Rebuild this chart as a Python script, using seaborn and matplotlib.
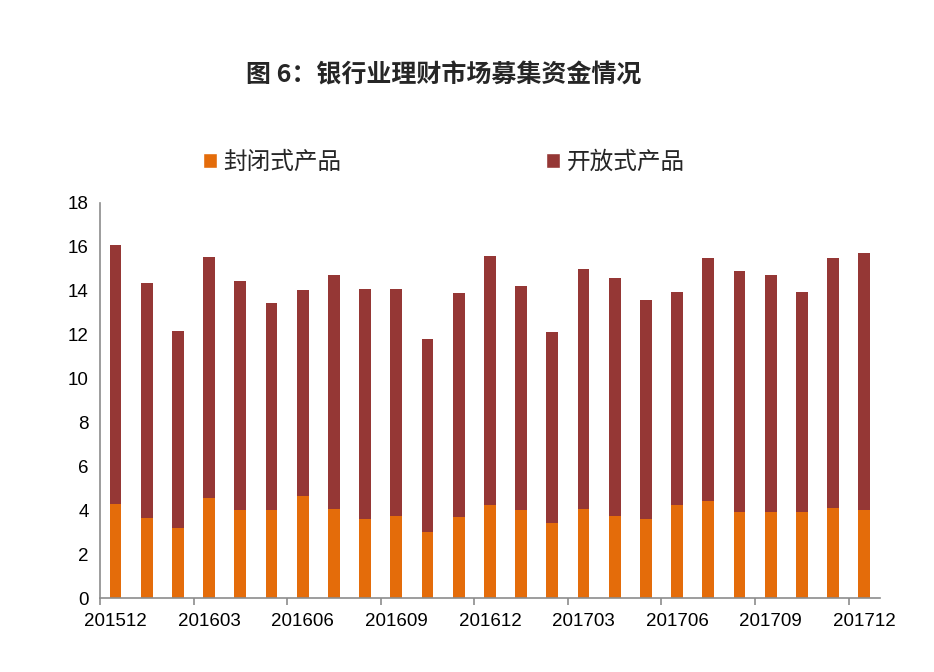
import matplotlib
matplotlib.use('Agg')
import matplotlib.pyplot as plt
import pandas as pd
import seaborn as sns
from matplotlib.patches import Patch

# 数据
months = ['201512', '201601', '201602', '201603', '201604', '201605', '201606',
          '201607', '201608', '201609', '201610', '201611', '201612', '201701',
          '201702', '201703', '201704', '201705', '201706', '201707', '201708',
          '201709', '201710', '201711', '201712']
closed = [4.3, 3.65, 3.2, 4.55, 4.0, 4.0, 4.65, 4.05, 3.6, 3.75, 3.0, 3.7, 4.25,
          4.0, 3.4, 4.05, 3.75, 3.6, 4.25, 4.4, 3.9, 3.9, 3.9, 4.1, 4.0]
opened = [11.8, 10.7, 8.95, 11.0, 10.45, 9.45, 9.4, 10.65, 10.5, 10.35, 8.8, 10.2,
          11.35, 10.2, 8.7, 10.95, 10.85, 10.0, 9.7, 11.1, 11.0, 10.8, 10.05, 11.4, 11.7]
tick_labels = ['201512', '201603', '201606', '201609', '201612',
               '201703', '201706', '201709', '201712']
series_names = ['封闭式产品', '开放式产品']

df = pd.DataFrame({'month': months, 'closed': closed, 'open': opened})
df['total'] = df['closed'] + df['open']

c_closed = '#E46C0A'
c_open = '#953735'
axis_gray = '#8C8C8C'

sns.set_style('white')
plt.rcParams['font.family'] = ['Liberation Sans', 'Noto Sans CJK SC', 'DejaVu Sans']

fig = plt.figure(figsize=(9.34, 6.72), dpi=100)
ax = fig.add_axes([0.107, 0.110, 0.835, 0.588])

# 堆叠柱：先画总量（开放式颜色），再覆盖封闭式
sns.barplot(data=df, x='month', y='total', color=c_open, width=0.38,
            saturation=1, linewidth=0, ax=ax)
sns.barplot(data=df, x='month', y='closed', color=c_closed, width=0.38,
            saturation=1, linewidth=0, ax=ax)

ax.set_xlim(-0.5, len(months) - 0.5)
ax.set_ylim(0, 18)
ax.set_yticks(range(0, 19, 2))
# 标签在柱中心，刻度线在类别边界
ax.set_xticks(list(range(0, len(months), 3)))
ax.set_xticklabels(tick_labels)
ax.set_xticks([i - 0.5 for i in range(0, len(months), 3)], minor=True)
ax.set_xlabel('')
ax.set_ylabel('')

for s in ['top', 'right']:
    ax.spines[s].set_visible(False)
for s in ['left', 'bottom']:
    ax.spines[s].set_color(axis_gray)
    ax.spines[s].set_linewidth(1.2)
ax.tick_params(axis='both', direction='out', length=5, width=1.2,
               color=axis_gray, labelsize=13.5, labelcolor='black')
ax.tick_params(axis='x', which='major', length=0, pad=11)
ax.tick_params(axis='x', which='minor', direction='out', length=5, width=1.2,
               color=axis_gray, bottom=True)
ax.tick_params(axis='y', pad=3)

fig.text(0.475, 0.888, '图 6：银行业理财市场募集资金情况', ha='center', va='center',
         fontsize=18, fontweight='bold', family=['Noto Sans CJK SC', 'DejaVu Sans'])

handles = [Patch(facecolor=c_closed), Patch(facecolor=c_open)]
fig.legend(handles, series_names, loc='center left', bbox_to_anchor=(0.217, 0.758),
           ncol=2, frameon=False, handlelength=0.6, handleheight=0.6,
           handletextpad=0.25, columnspacing=8.7, borderaxespad=0, borderpad=0,
           prop={'family': ['Noto Sans CJK SC', 'DejaVu Sans'], 'size': 17})

fig.savefig('out.png', dpi=100)
